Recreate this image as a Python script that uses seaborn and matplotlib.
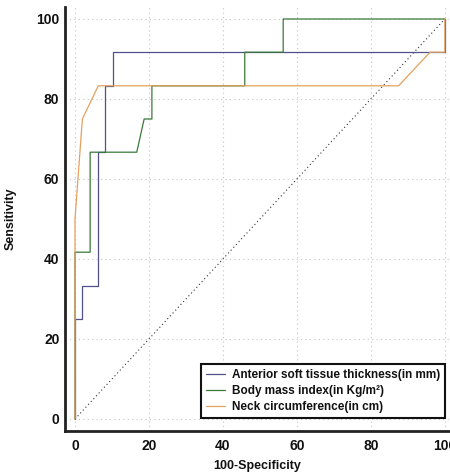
import numpy as np
import pandas as pd
import matplotlib
matplotlib.use("Agg")
import matplotlib.pyplot as plt
from matplotlib.ticker import MultipleLocator
import seaborn as sns

# ROC curves (100-Specificity, Sensitivity)
ast_x = [0, 0, 2, 2, 6.1, 6.1, 8.1, 8.1, 10.4, 10.4, 100, 100]
ast_y = [0, 25, 25, 33.3, 33.3, 66.7, 66.7, 83.3, 83.3, 91.7, 91.7, 100]

bmi_x = [0, 0, 4.1, 4.1, 16.7, 18.7, 20.8, 20.8, 45.9, 45.9, 56.3, 56.3, 100]
bmi_y = [0, 41.7, 41.7, 66.7, 66.7, 75, 75, 83.3, 83.3, 91.7, 91.7, 100, 100]

neck_x = [0, 0, 2, 6.3, 87.5, 96, 100, 100]
neck_y = [0, 50, 75, 83.3, 83.3, 91.7, 91.7, 100]

labels = ["Anterior soft tissue thickness(in mm)",
          "Body mass index(in Kg/m²)",
          "Neck circumference(in cm)"]
colors = ["#50508c", "#3a7a3a", "#e3a15e"]

ref_x = [0, 100]
ref_y = [0, 100]

frames = []
for lab, xs, ys in zip(labels, [ast_x, bmi_x, neck_x], [ast_y, bmi_y, neck_y]):
    frames.append(pd.DataFrame({"x": xs, "y": ys, "curve": lab,
                                "order": np.arange(len(xs))}))
df = pd.concat(frames, ignore_index=True)

sns.set_style("white")
plt.rcParams["font.family"] = ["Liberation Sans", "DejaVu Sans"]
plt.rcParams["font.weight"] = "bold"

fig = plt.figure(figsize=(4.5, 4.76), dpi=100)
ax = fig.add_axes([65 / 450, 45 / 476, 385 / 450, 424 / 476])

ax.grid(True, which="major", color="#c4c4c4", linestyle=(0, (1, 3)), linewidth=0.8)
ax.set_axisbelow(True)

ax.plot(ref_x, ref_y, color="#333333", linestyle=(0, (1, 2.5)), linewidth=0.8)

sns.lineplot(data=df, x="x", y="y", hue="curve", units="curve",
             estimator=None, sort=False, palette=dict(zip(labels, colors)),
             hue_order=labels, linewidth=0.9, ax=ax)

ax.set_xlim(-2.7, 101.4)
ax.set_ylim(-3, 103)
ax.xaxis.set_major_locator(MultipleLocator(20))
ax.yaxis.set_major_locator(MultipleLocator(20))
ax.xaxis.set_minor_locator(MultipleLocator(5))
ax.yaxis.set_minor_locator(MultipleLocator(5))
ax.tick_params(which="major", direction="in", length=10, width=2.2,
               color="#222222", labelcolor="#111111", labelsize=10, pad=4)
ax.tick_params(which="minor", direction="in", length=5, width=0.9,
               color="#444444")
ax.tick_params(axis="x", which="major", pad=6)
for t in ax.get_xticklabels() + ax.get_yticklabels():
    t.set_fontweight("bold")

for side in ["top", "right"]:
    ax.spines[side].set_visible(False)
for side in ["left", "bottom"]:
    ax.spines[side].set_color("#222222")
    ax.spines[side].set_linewidth(2)

ax.set_xlabel("100-Specificity", fontsize=9, fontweight="bold", labelpad=5,
              color="#111111")
ax.set_ylabel("Sensitivity", fontsize=9, fontweight="bold", labelpad=14,
              color="#111111")

leg = ax.legend(loc="lower right", bbox_to_anchor=(0.987, 0.031),
                borderaxespad=0, fancybox=False, framealpha=1,
                handlelength=1.6, handletextpad=0.6, labelspacing=0.35,
                prop={"size": 8.5, "weight": "bold"}, title=None)
leg.get_frame().set_edgecolor("#111111")
leg.get_frame().set_linewidth(1.5)
for t in leg.get_texts():
    t.set_color("#111111")

plt.savefig("out.png", dpi=100)
